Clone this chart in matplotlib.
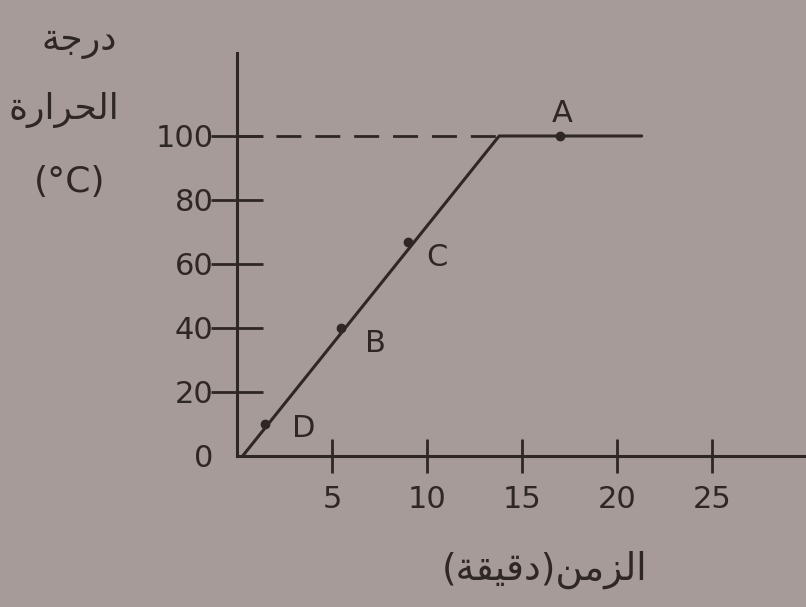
import matplotlib
matplotlib.use("Agg")
import matplotlib.pyplot as plt

# ---- data ----
line_time = [0.3, 13.8, 21.3]          # minutes
line_temp = [0, 100, 100]               # °C
point_names = ["D", "B", "C", "A"]
point_time = [1.5, 5.5, 9.0, 17.0]
point_temp = [10, 40, 67, 100]
x_ticks = [5, 10, 15, 20, 25]
y_ticks = [0, 20, 40, 60, 80, 100]

# Arabic labels (presentation forms, visual order)
ylab1 = "\uFE94\uFE9F\uFEAD\uFEA9"                          # درجة
ylab2 = "\uFE93\uFEAD\uFE8D\uFEAE\uFEA4\uFEDF\uFE8D"        # الحرارة
ylab3 = "(°C)"
xlab = "(\uFE94\uFED8\uFEF4\uFED7\uFEA9)\uFEE6\uFEE3\uFEB0\uFEDF\uFE8D"  # الزمن(دقيقة)

bg = "#a69b98"
ink = "#2f2725"

fig = plt.figure(figsize=(8.06, 6.07), dpi=100, facecolor=bg)
ax = fig.add_axes([0, 0, 1, 1], facecolor=bg)
ax.set_xlim(-12.47, 29.95)
ax.set_ylim(-47.2, 142.5)

for s in ["top", "right"]:
    ax.spines[s].set_visible(False)
ax.spines["left"].set_position(("data", 0))
ax.spines["bottom"].set_position(("data", 0))
ax.spines["left"].set_bounds(0, 126)
ax.spines["bottom"].set_bounds(0, 30)
for s in ["left", "bottom"]:
    ax.spines[s].set_color(ink)
    ax.spines[s].set_linewidth(2.2)

ax.set_xticks(x_ticks)
ax.set_yticks(y_ticks)
ax.tick_params(axis="y", direction="inout", length=38, width=2, color=ink,
               labelsize=22, labelcolor=ink, pad=-2)
ax.tick_params(axis="x", direction="inout", length=24, width=2, color=ink,
               labelsize=22, labelcolor=ink, pad=9)
ax.yaxis.get_major_ticks()[0].tick1line.set_visible(False)
for lab in ax.get_xticklabels() + ax.get_yticklabels():
    lab.set_family("DejaVu Sans")

# dashed guide at 100
ax.plot([0, line_time[1]], [100, 100], color=ink, lw=2, ls=(0, (9, 5)))
# heating curve
ax.plot(line_time, line_temp, color=ink, lw=2.2, solid_capstyle="round")
ax.plot(point_time, point_temp, "o", color=ink, ms=6)

label_pos = {"D": (3.5, 8.5), "B": (7.3, 35), "C": (10.5, 62), "A": (17.1, 107)}
for n in point_names:
    ax.text(*label_pos[n], n, fontsize=22, color=ink, ha="center", va="center")

ax.text(-8.3, 129.5, ylab1, fontsize=26, color=ink, ha="center", va="center", family="DejaVu Sans")
ax.text(-9.1, 108, ylab2, fontsize=26, color=ink, ha="center", va="center", family="DejaVu Sans")
ax.text(-8.8, 85.5, ylab3, fontsize=26, color=ink, ha="center", va="center", family="DejaVu Sans")
ax.text(16.2, -35.5, xlab, fontsize=27, color=ink, ha="center", va="center", family="DejaVu Sans")

fig.savefig("out.png", dpi=100, facecolor=bg)
